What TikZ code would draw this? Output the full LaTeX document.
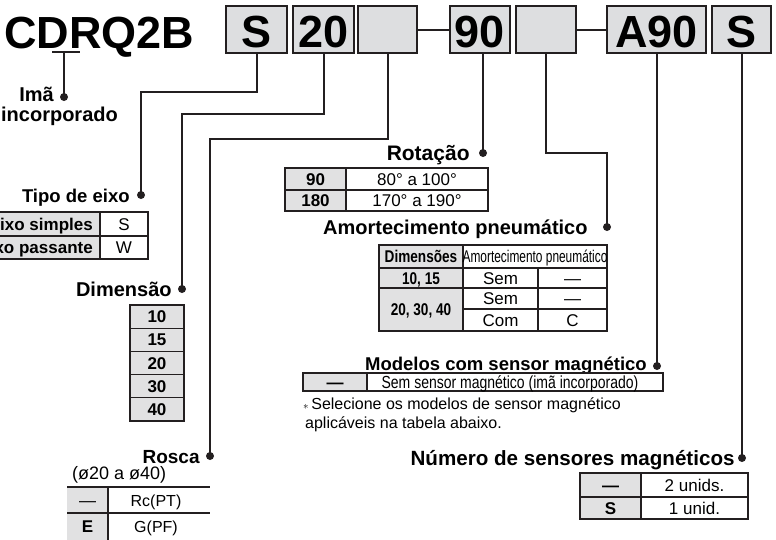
\documentclass[tikz,border=0pt]{standalone}
\usepackage{fontspec}
\setmainfont{Liberation Sans}
\newfontfamily\narrowfont[FakeStretch=0.8]{Liberation Sans}
\newfontfamily\condfont[FakeStretch=0.7]{Liberation Sans}
\usetikzlibrary{positioning}
\definecolor{ink}{RGB}{35,31,32}
\definecolor{boxgray}{RGB}{221,222,224}
\definecolor{cellgray}{RGB}{225,225,226}
\begin{document}
\begin{tikzpicture}[x=1pt,y=-1pt,
    codebox/.style={draw=ink, line width=2pt, fill=boxgray, inner sep=0, minimum height=47,
      text height=35, text depth=0, font=\bfseries\fontsize{45}{45}\selectfont},
    lbl/.style={inner sep=0, text height=14, text depth=0, font=\bfseries\fontsize{20}{20}\selectfont},
    conn/.style={draw=ink, line width=2pt},
    bullet/.style={circle, fill=ink, inner sep=0, minimum size=8},
    tbl/.style={draw=ink, line width=1.2pt},
    cell/.style={inner sep=0, text height=12, text depth=0, font=\fontsize{17}{17}\selectfont},
    cellb/.style={cell, font=\bfseries\fontsize{17}{17}\selectfont}]
  \useasboundingbox (0,0) rectangle (776,539);
  \clip (0,0) rectangle (776,539);

  % model code
  \node[anchor=base west, inner sep=0, font=\bfseries\fontsize{45}{45}\selectfont] (model) at (4,48) {CDRQ2B};
  \node[codebox, minimum width=61] (bS)   at (256.5,29.5) {S};
  \node[codebox, minimum width=61] (b20)  at (323.5,29.5) {20};
  \node[codebox, minimum width=59] (bE1)  at (387.5,29.5) {};
  \node[codebox, minimum width=60] (b90)  at (480,29.5) {90};
  \node[codebox, minimum width=60] (bE2)  at (546,29.5) {};
  \node[codebox, minimum width=99] (bA90) at (656.5,29.5) {A90};
  \node[codebox, minimum width=59] (bS2)  at (741.5,29.5) {S};
  \draw[conn] (bE1.east) -- (b90.west);
  \draw[conn] (bE2.east) -- (bA90.west);

  % dots
  \node[bullet] (dIma)   at (64,97) {};
  \node[bullet] (dTipo)  at (141,195) {};
  \node[bullet] (dDim)   at (182,289) {};
  \node[bullet] (dRosca) at (210,456) {};
  \node[bullet] (dRot)   at (483,153) {};
  \node[bullet] (dAmort) at (607,227) {};
  \node[bullet] (dMod)   at (657,366) {};
  \node[bullet] (dNum)   at (742,458) {};

  % connectors
  \coordinate (uL) at (52,52);
  \coordinate (uR) at (80,52);
  \coordinate (kTipo)  at (141,92);
  \coordinate (kDim)   at (182,114);
  \coordinate (kRosca) at (210,139);
  \coordinate (kAmort) at (607,153);
  \draw[conn] (uL) -- (uR);
  \draw[conn] (uL -| dIma) -- (dIma.center);
  \draw[conn] (bS.south) |- (kTipo) -- (dTipo.center);
  \draw[conn] (b20.south) |- (kDim) -- (dDim.center);
  \draw[conn] (bE1.south) |- (kRosca) -- (dRosca.center);
  \draw[conn] (b90.south -| dRot) -- (dRot.center);
  \draw[conn] (bE2.south) |- (kAmort) -- (dAmort.center);
  \draw[conn] (bA90.south -| dMod) -- (dMod.center);
  \draw[conn] (bS2.south -| dNum) -- (dNum.center);

  % labels
  \node[lbl, anchor=base east] (lIma) at (54,101) {Imã};
  \node[lbl, anchor=base east] (lInc) at (118,121) {incorporado};
  \node[lbl, left=7pt of dTipo, font=\bfseries\fontsize{18.5}{18.5}\selectfont] (lTipo) {Tipo de eixo};
  \node[lbl, left=6pt of dDim] (lDim) {Dimensão};
  \node[lbl, left=6pt of dRosca, font=\bfseries\fontsize{19}{19}\selectfont] (lRosca) {Rosca};
  \node[cell, anchor=west, font=\fontsize{18}{18}\selectfont] (lRange) at (72,473) {(ø20 a ø40)};
  \node[lbl, left=9pt of dRot, font=\bfseries\fontsize{21}{21}\selectfont] (lRot) {Rotação};
  \node[lbl, left=15pt of dAmort] (lAmort) {Amortecimento pneumático};
  \node[lbl, anchor=base east, font=\bfseries\fontsize{18.5}{18.5}\selectfont] (lMod) at (647,370) {Modelos com sensor magnético};
  \node[lbl, left=3pt of dNum, font=\bfseries\fontsize{20.6}{20.6}\selectfont] (lNum) {Número de sensores magnéticos};

  % Tipo de eixo
  \fill[cellgray] (-60,212) rectangle (100,259);
  \draw[tbl] (-60,212) -- (148,212) -- (148,259) -- (-60,259);
  \draw[tbl] (-60,236) -- (148,236) (100,212) -- (100,259);
  \node[cellb, anchor=east] (tE1) at (93,224) {Eixo simples};
  \node[cellb, anchor=east] (tE2) at (93,247.5) {Eixo passante};
  \node[cell] (tS) at (124,224) {S};
  \node[cell] (tW) at (124,247.5) {W};

  % Dimensao
  \fill[cellgray] (130,305) rectangle (184,421);
  \draw[tbl] (130,305) rectangle (184,421);
  \draw[ink, line width=2pt] (130,305) -- (184,305);
  \foreach \v [count=\i] in {10,15,20,30,40} {
    \node[cellb] (dim\i) at (157,{305+23.2*(\i-0.5)}) {\v};
    \ifnum\i<5 \draw[tbl] (130,{305+23.2*\i}) -- (184,{305+23.2*\i}); \fi
  }

  % Rosca
  \fill[cellgray] (67,487) rectangle (108,545);
  \draw[ink, line width=2pt] (67,487) -- (210,487);
  \draw[tbl] (67,513) -- (210,513) (108,487) -- (108,545);
  \node[cell] (rA) at (87.5,500) {—};
  \node[cell, font=\fontsize{16}{16}\selectfont] (rB) at (156,500) {Rc(PT)};
  \node[cellb] (rC) at (87.5,526) {E};
  \node[cell, font=\fontsize{16}{16}\selectfont] (rD) at (156,526) {G(PF)};

  % Rotacao
  \fill[cellgray] (285,168) rectangle (346,211);
  \draw[tbl] (285,168) rectangle (488,211);
  \draw[tbl] (285,190) -- (488,190) (346,168) -- (346,211);
  \node[cellb] (o1) at (315.5,179) {90};
  \node[cellb] (o2) at (315.5,200.5) {180};
  \node[cell] (o3) at (417,179) {80° a 100°};
  \node[cell] (o4) at (417,200.5) {170° a 190°};

  % Amortecimento
  \fill[cellgray] (379,245) rectangle (463,331);
  \draw[tbl] (379,245) rectangle (607,331);
  \draw[tbl] (379,268) -- (607,268) (379,288) -- (607,288) (463,309) -- (607,309);
  \draw[tbl] (463,245) -- (463,331) (538,268) -- (538,331);
  \node[cellb, font=\narrowfont\bfseries\fontsize{17}{17}\selectfont] (a1) at (421,256.5) {Dimensões};
  \node[cell, font=\condfont\fontsize{17}{17}\selectfont] (a2) at (535,256.5) {Amortecimento pneumático};
  \node[cellb, font=\narrowfont\bfseries\fontsize{17}{17}\selectfont] (a3) at (421,278) {10, 15};
  \node[cellb, font=\narrowfont\bfseries\fontsize{17}{17}\selectfont] (a4) at (421,309.5) {20, 30, 40};
  \node[cell] (a5) at (500.5,278) {Sem};
  \node[cell] (a6) at (572.5,278) {—};
  \node[cell] (a7) at (500.5,298.5) {Sem};
  \node[cell] (a8) at (572.5,298.5) {—};
  \node[cell] (a9) at (500.5,320) {Com};
  \node[cell] (a10) at (572.5,320) {C};

  % Modelos com sensor magnetico
  \fill[cellgray] (303,373) rectangle (367,391);
  \draw[tbl] (303,373) rectangle (663,391);
  \draw[tbl] (367,373) -- (367,391);
  \node[cellb] (m1) at (335,382) {—};
  \node[cell, font=\narrowfont\fontsize{17.5}{17.5}\selectfont] (m2) at (510,382) {Sem sensor magnético (imã incorporado)};
  \node[anchor=base west, inner sep=0, font=\fontsize{16}{16}\selectfont] (note1) at (303,409)
    {{\fontsize{11}{11}\selectfont$\ast$}\,Selecione os modelos de sensor magnético};
  \node[anchor=base west, inner sep=0, font=\fontsize{16}{16}\selectfont] (note2) at (305,428)
    {aplicáveis na tabela abaixo.};

  % Numero de sensores
  \fill[cellgray] (580,473) rectangle (641,519);
  \draw[tbl] (580,473) rectangle (748,519);
  \draw[tbl] (580,497) -- (748,497) (641,473) -- (641,519);
  \node[cellb] (n1) at (610.5,485) {—};
  \node[cellb] (n2) at (610.5,508) {S};
  \node[cell] (n3) at (694.5,485) {2 unids.};
  \node[cell] (n4) at (694.5,508) {1 unid.};
\end{tikzpicture}
\end{document}
